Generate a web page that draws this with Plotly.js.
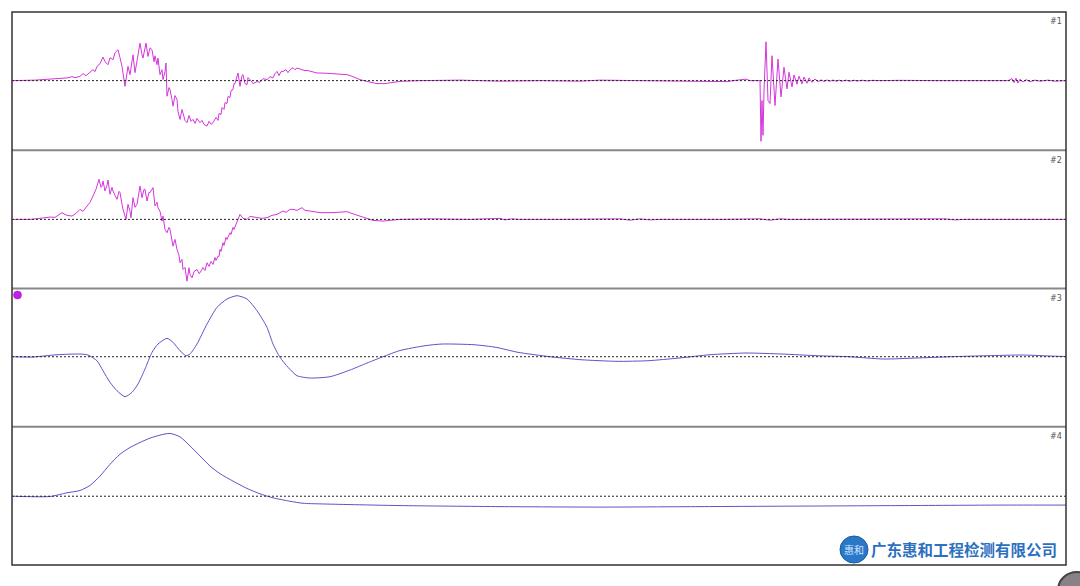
<!DOCTYPE html>
<html>
<head>
<meta charset="utf-8">
<script src="https://cdn.plot.ly/plotly-3.0.1.min.js"></script>
<style>html,body{margin:0;padding:0;background:#fff;}#chart{width:1080px;height:586px;}</style>
</head>
<body>
<div id="chart"></div>
<script>
// Channel labels
const channelLabels = ["#1", "#2", "#3", "#4"];
const watermarkText = "广东惠和工程检测有限公司";
const logoText = "惠和";

// Channel #1 (sample index, amplitude)
const t1 = [0,15,23,30,38,43,48,55,60,63,68,71,74,78,81,83,85,88,91,93,96,98,101,103,106,108,110,113,115,116,118,121,123,125,128,130,131,134,136,138,140,142,143,145,146,148,150,151,153,154,155,157,158,160,161,163,165,166,168,170,171,173,175,177,179,181,183,185,188,190,192,195,197,199,201,204,206,207,209,210,212,213,215,216,218,219,221,222,223,226,228,230,231,233,235,236,238,241,245,248,251,255,258,261,263,265,267,269,271,274,276,278,281,283,285,288,290,293,295,300,305,313,321,328,335,341,348,356,365,373,378,388,408,448,488,528,568,588,628,668,688,715,721,734,738,748,749,750,751,752,754,756,758,760,763,766,769,772,775,777,780,782,785,787,790,792,795,797,800,803,806,809,812,815,818,821,824,827,830,834,838,842,846,850,855,860,868,888,928,968,996,1000,1002,1004,1006,1008,1011,1014,1018,1023,1028,1036,1043,1054];
const v1 = [0,0,0.5,1,1.7,1.5,2.5,2.7,4,3,4.3,7,5,8.3,11,9,14.3,17,23.7,19,16,23,21,28,31,23,14.3,-5.7,9,14.3,6,26,8,21,37.7,26,22.7,37.7,24.3,33,31,19,25,16,22.7,6,11,1,9,17.7,-15.7,-7,-9,-19,-25.7,-15,-19,-31,-39,-29,-32,-40,-42.3,-35,-41,-39,-43,-38,-42.3,-40,-44,-45.7,-41,-44,-42.3,-37,-40,-33,-34,-27,-29,-22,-23,-16,-17,-10,-9,-3,-3,7.7,-5.7,5,6,-3,-4,3,1,-3,-1,-1.7,2,1,4,2.7,7,9.3,5,9,9.3,11,8,11,13,11,12.7,12,11,10,10.3,9,7.7,7.5,7,7,6,4,1,-1,-3,-3,-2.3,-0.7,0,0.5,-0.5,0,-0.5,0.5,0,-0.5,0,-1,0,1.5,0,0,-61,-20,-55,-10,39,-20,-23,25,-25,21.7,-16.3,13.4,-8.3,8.4,-6.3,5.7,-3.6,4.4,-3.3,3.7,-2.7,2.7,-1.7,1.7,-1,0.8,-0.8,0.7,-0.6,0.6,-0.6,0.5,-0.5,0.5,-0.5,0.4,-0.4,0.4,-0.3,0.3,0,0.3,0,-0.3,0,2,-2,2.5,-2.5,1.5,-1.5,1,-1,0.5,-0.5,0.5,-0.5,0];

// Channel #2
const t2 = [0,18,28,38,43,50,53,55,60,64,68,71,75,78,81,84,87,89,90,91,93,95,96,98,100,101,103,105,107,108,110,111,114,116,118,119,121,123,125,127,128,130,132,133,135,137,138,141,143,145,146,148,150,151,153,155,157,158,160,161,163,165,167,168,170,171,173,175,177,178,180,182,185,187,188,191,193,195,197,199,201,203,204,206,207,208,209,211,212,214,215,218,219,221,222,225,228,231,235,238,245,250,255,260,265,268,271,274,278,281,285,290,293,298,303,308,321,328,335,341,348,355,361,371,380,388,418,458,488,493,500,508,548,608,618,628,638,648,708,748,758,768,778,838,933,943,953,1054];
const v2 = [0,0,1,2.3,2,6.7,5,4,3.3,6,10,8,13.3,17,23.3,30,40,32,33.3,38.3,28.3,34,39.3,25,32,28.3,24,20,28,26.7,15,10,0,15,8,1.7,21.7,12,15,25,33.3,21.7,30,30,18.3,27,26.7,31.7,13.3,17,11.7,8,-1.7,3.3,-10,-13.3,-8,-10,-22,-26.7,-20,-30,-36,-43.3,-40,-50,-48,-61.7,-48.3,-55,-58.3,-52,-50,-54,-53.3,-48,-51,-43.3,-47,-42,-45,-38,-41,-36.7,-37,-30,-32,-23.3,-26,-18,-20,-13.3,-15,-8,-10,-1.7,5,1,0,3,1.7,1,1.7,4,5,7,8.3,7,10,10,9,11.7,9,8.3,7.5,6.7,6.7,7,7.7,5.5,3.3,1,-1,-1.7,-1,0,0.5,0,1,-0.5,0.5,0,0,0.5,-0.8,0.5,-0.5,0,0,0.5,-0.8,0.5,0,0,0.5,-0.5,0,0];

// Channel #3
const t3 = [0,21,45,68,76,85,91,98,105,113,120,126,133,140,146,155,161,168,174,178,185,195,205,215,225,235,245,255,261,268,276,285,298,318,338,355,371,388,413,430,462,484,506,538,569,605,636,667,698,734,770,805,837,872,904,939,975,1011,1038,1054];
const v3 = [0,-0.3,2,2.7,1.7,-4,-14,-25.6,-34,-40,-35.6,-27.3,-12.3,4.4,12.7,18.4,14.4,6,1,2.7,12.7,32.7,49.4,57.7,61,57.7,46,29.4,12.7,-0.6,-10.6,-19,-21.3,-20,-13.3,-6.3,0,6.2,11,12.7,12,9.4,4.4,0,-3,-4.6,-4,-1.3,2,3.7,2.7,1,0,-2.3,-1.3,0,1,1.7,0.7,0.2];

// Channel #4
const t4 = [0,38,55,68,78,88,98,108,118,128,138,148,158,168,178,188,198,208,221,235,248,261,278,291,308,338,388,488,588,688,788,888,988,1054];
const v4 = [0,-0.3,3.4,5.7,10.7,20,31.7,41.7,48.4,53.4,57.7,60.7,62.4,59,50,40,30,22.4,15,7.7,2.4,-1.6,-5,-7,-7.6,-8.3,-9.3,-10.3,-10.8,-10.3,-9.8,-9.3,-8.8,-8.8];

const magenta = '#d435dc';
const violet = '#5e52c8';

const traces = [
  {x: t1, y: v1, xaxis: 'x', yaxis: 'y', type: 'scatter', mode: 'lines', line: {color: magenta, width: 1}, hoverinfo: 'skip'},
  {x: t2, y: v2, xaxis: 'x', yaxis: 'y2', type: 'scatter', mode: 'lines', line: {color: magenta, width: 1}, hoverinfo: 'skip'},
  {x: t3, y: v3, xaxis: 'x', yaxis: 'y3', type: 'scatter', mode: 'lines', line: {color: violet, width: 1, shape: 'spline', smoothing: 0.6}, hoverinfo: 'skip'},
  {x: t4, y: v4, xaxis: 'x', yaxis: 'y4', type: 'scatter', mode: 'lines', line: {color: violet, width: 1, shape: 'spline', smoothing: 0.6}, hoverinfo: 'skip'}
];

function yax(domain, range) {
  return {domain: domain, range: range, anchor: 'x', visible: false, showgrid: false, zeroline: false, fixedrange: true};
}

const H = 553, W = 1054;
const py = p => (565 - p) / H;   // helper for decoration placement
const px = p => (p - 12) / W;

const shapes = [];
// dashed zero lines
['y', 'y2', 'y3', 'y4'].forEach(r => {
  shapes.push({type: 'line', xref: 'paper', yref: r, x0: 0, x1: 1, y0: 0, y1: 0, line: {color: '#222', width: 1, dash: '2px,2px'}});
});
// panel separators
[0.25, 0.5, 0.75].forEach(y => {
  shapes.push({type: 'line', xref: 'paper', yref: 'paper', x0: 0, x1: 1, y0: y, y1: y, line: {color: '#888', width: 2}});
});
// outer frame
shapes.push({type: 'rect', xref: 'paper', yref: 'paper', x0: 0, x1: 1, y0: 0, y1: 1, line: {color: '#333', width: 1.5}});
// marker dot on channel 3
shapes.push({type: 'circle', xref: 'paper', yref: 'paper', x0: px(13.5), x1: px(21.5), y0: py(299), y1: py(291), fillcolor: '#c21fe8', line: {color: '#a010c0', width: 0.5}});
// logo circle
shapes.push({type: 'circle', xref: 'paper', yref: 'paper', x0: px(840), x1: px(868), y0: py(563), y1: py(536), fillcolor: '#2a78c8', line: {color: '#1a5aa0', width: 1}});
// corner artifact
shapes.push({type: 'circle', xref: 'paper', yref: 'paper', x0: px(1058), x1: px(1096), y0: py(608), y1: py(572), fillcolor: '#8a8088', line: {color: '#4a4048', width: 2}});

const annotations = [];
[1, 0.75, 0.5, 0.25].forEach((y, i) => {
  annotations.push({xref: 'paper', yref: 'paper', x: 0.998, y: y - 0.006, xanchor: 'right', yanchor: 'top', text: channelLabels[i], showarrow: false, font: {family: 'DejaVu Sans', size: 8, color: '#555'}});
});
annotations.push({xref: 'paper', yref: 'paper', x: px(854), y: py(549.5), xanchor: 'center', yanchor: 'middle', text: logoText, showarrow: false, font: {family: 'Noto Sans CJK SC', size: 10, color: '#cfe4ff'}});
annotations.push({xref: 'paper', yref: 'paper', x: px(869), y: py(549), xanchor: 'left', yanchor: 'middle', text: watermarkText, showarrow: false, font: {family: 'Noto Sans CJK SC', size: 15.5, weight: 600, color: '#2c70c0'}});

const layout = {
  width: 1080, height: 586,
  margin: {l: 12, r: 14, t: 12, b: 21, pad: 0},
  paper_bgcolor: '#ffffff', plot_bgcolor: '#ffffff',
  showlegend: false,
  xaxis: {range: [0, 1054], visible: false, showgrid: false, zeroline: false, fixedrange: true},
  yaxis: yax([0.75, 1], [-70, 69]),
  yaxis2: yax([0.5, 0.75], [-69, 69]),
  yaxis3: yax([0.25, 0.5], [-70, 68.2]),
  yaxis4: yax([0, 0.25], [-68.3, 69]),
  shapes: shapes,
  annotations: annotations
};

Plotly.newPlot('chart', traces, layout, {displayModeBar: false, staticPlot: true});
</script>
</body>
</html>
